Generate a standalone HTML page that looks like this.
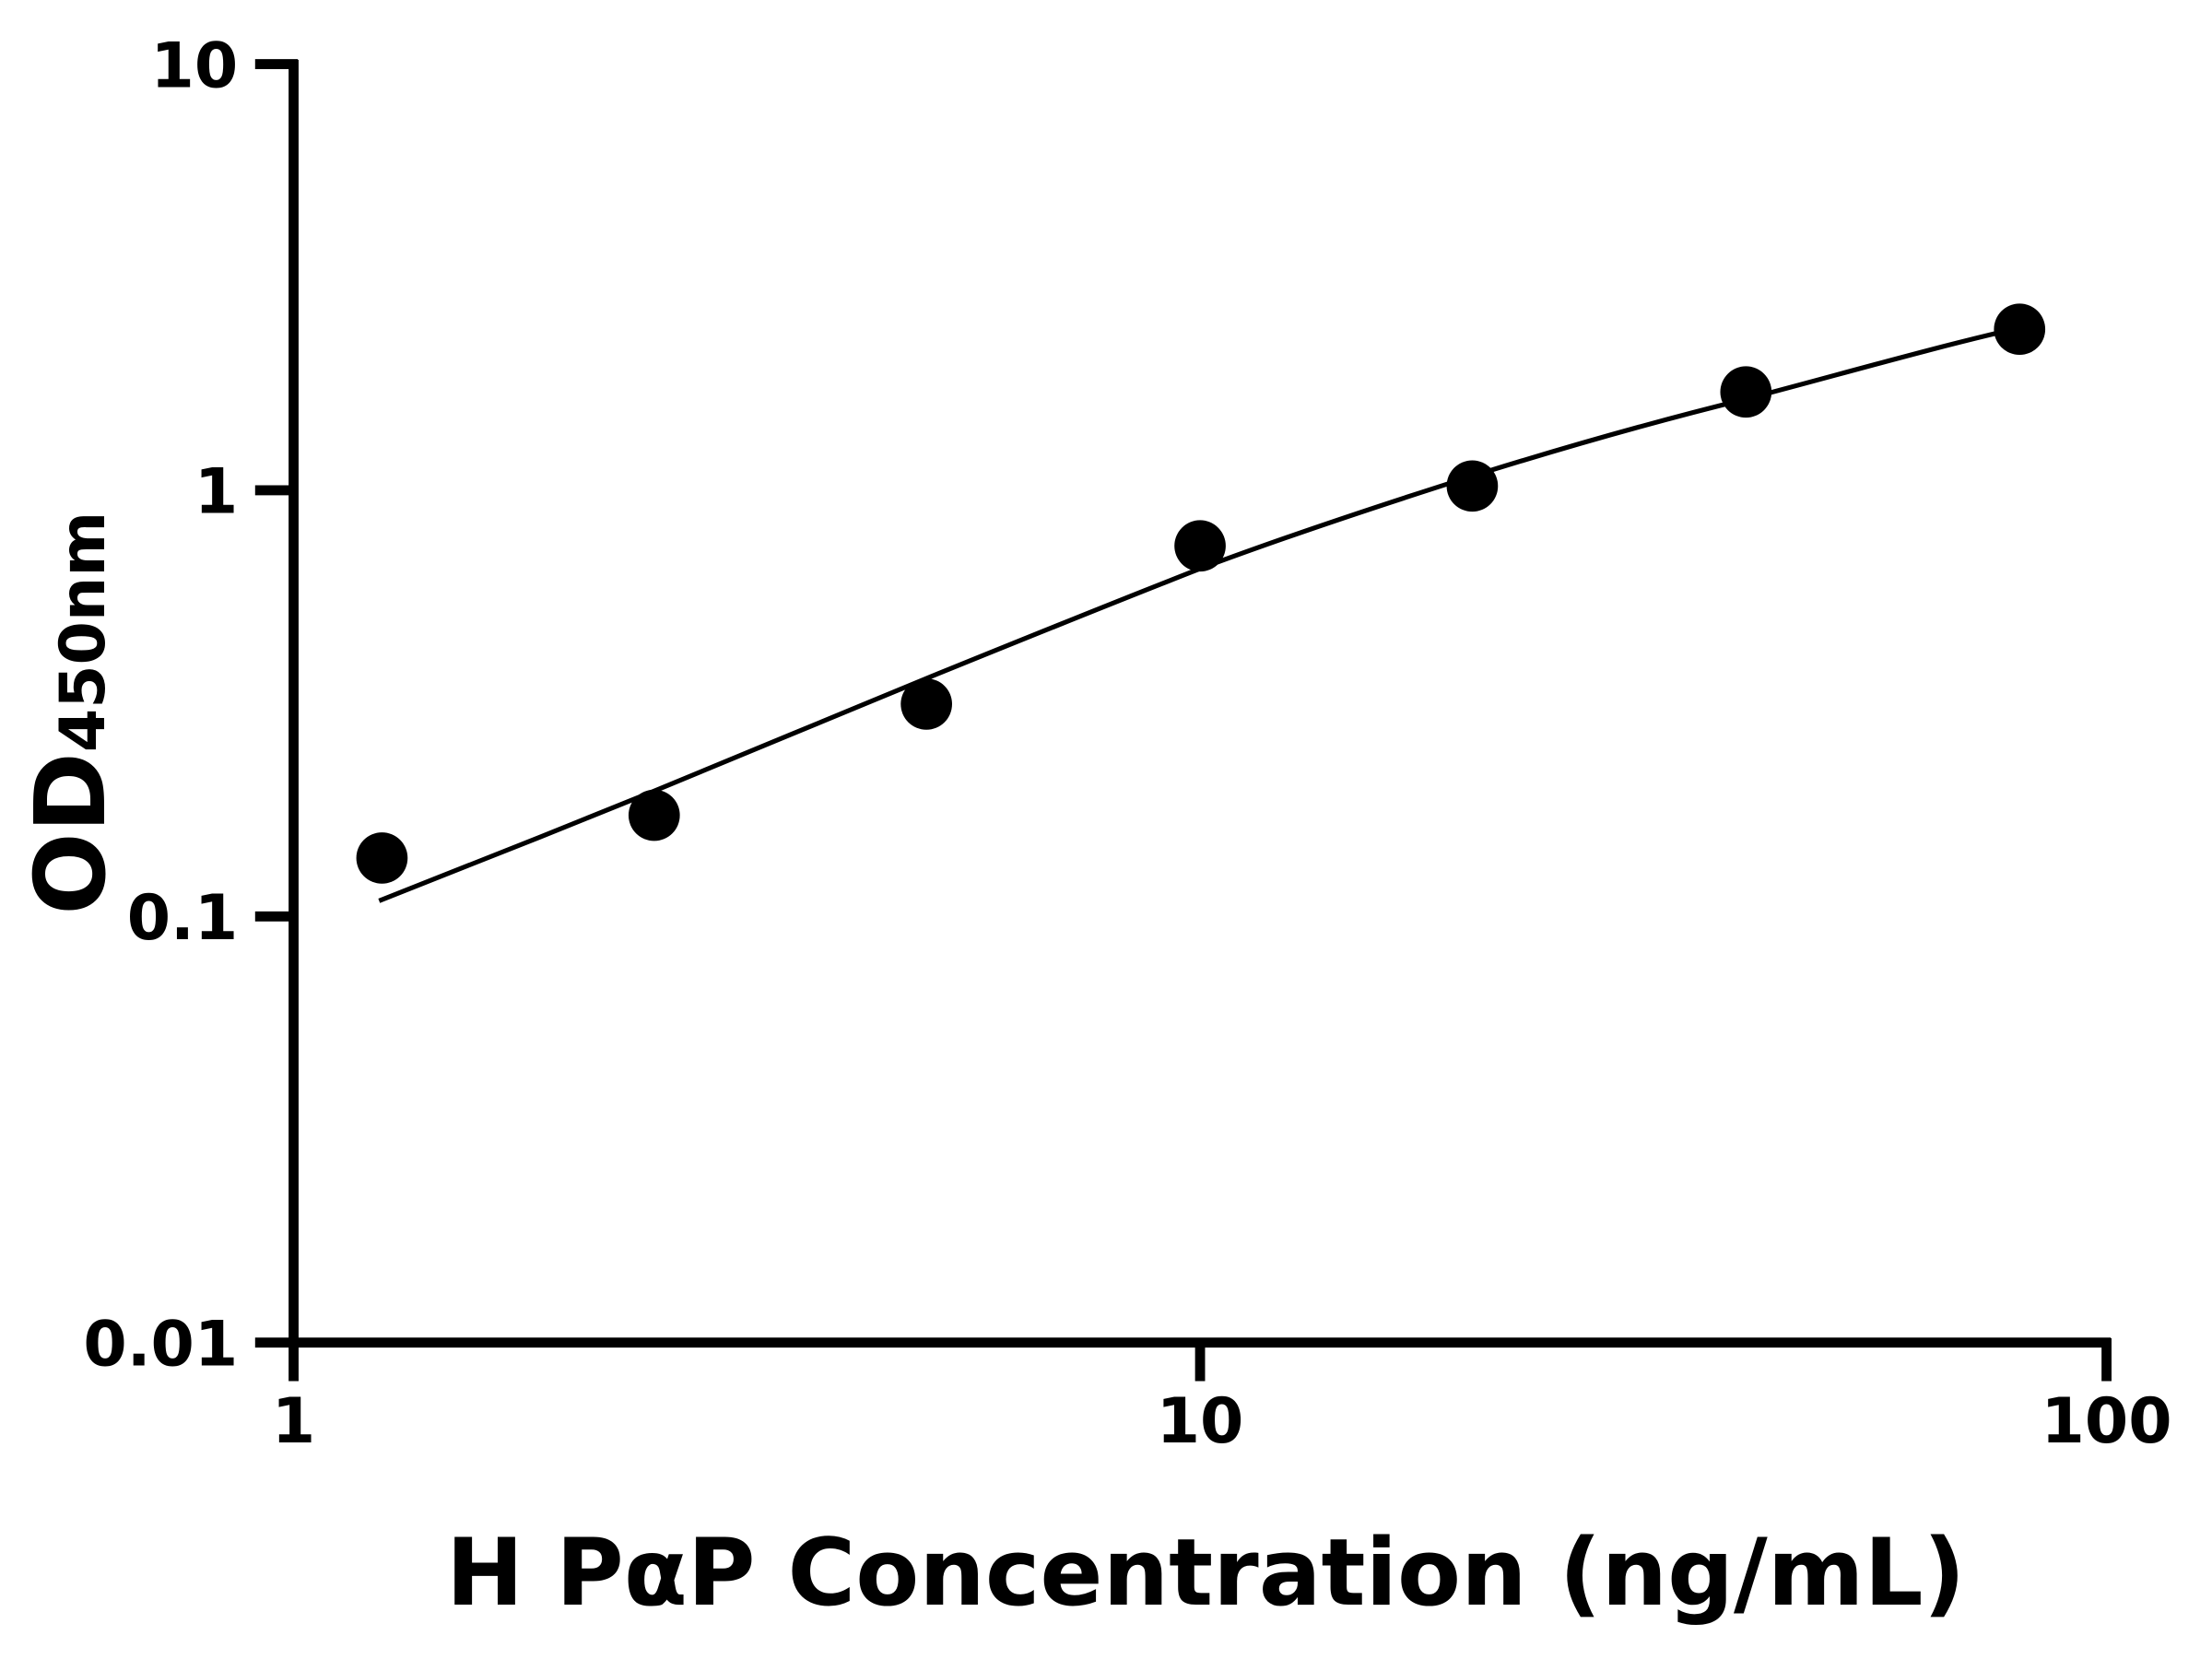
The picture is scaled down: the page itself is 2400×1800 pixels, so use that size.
<!DOCTYPE html>
<html><head><style>html,body{margin:0;padding:0;background:#fff;}svg{display:block}</style></head>
<body>
<svg width="2400" height="1800" viewBox="0 0 1552 1164" preserveAspectRatio="none" xmlns="http://www.w3.org/2000/svg" font-family="'DejaVu Sans','Liberation Sans',sans-serif" font-weight="bold">
<g stroke="#000" stroke-width="7" fill="none">
<line x1="206" y1="42" x2="206" y2="945"/>
<line x1="203" y1="942" x2="1481" y2="942"/>
<line x1="179" y1="45" x2="209" y2="45"/>
<line x1="179" y1="344" x2="206" y2="344"/>
<line x1="179" y1="643" x2="206" y2="643"/>
<line x1="179" y1="942" x2="206" y2="942"/>
<line x1="206" y1="942" x2="206" y2="969"/>
<line x1="842" y1="942" x2="842" y2="969"/>
<line x1="1478" y1="939" x2="1478" y2="969"/>
</g>
<g font-size="44" text-anchor="end" fill="#000">
<text x="167" y="61">10</text>
<text x="167" y="360">1</text>
<text x="167" y="659">0.1</text>
<text x="167" y="958">0.01</text>
</g>
<g font-size="44" text-anchor="middle" fill="#000">
<text x="206" y="1012">1</text>
<text x="842" y="1012">10</text>
<text x="1478" y="1012">100</text>
</g>
<text x="846" y="1126" font-size="65" text-anchor="middle">H PαP Concentration (ng/mL)</text>
<text transform="translate(73,642) rotate(-90)" font-size="68">OD<tspan font-size="44">450nm</tspan></text>
<path d="M266,632 C330,607 395,581 459,555 C523,529 586,502 650,476 C714,450 778,424 842,399 C906,375 970,354 1033,334 C1097,314 1160,296 1225,280 C1290,263 1352,245 1417,230" stroke="#000" stroke-width="3.3" fill="none"/>
<g fill="#000">
<circle cx="268" cy="602" r="18"/>
<circle cx="459" cy="572" r="18"/>
<circle cx="650" cy="494" r="18"/>
<circle cx="842" cy="383" r="18"/>
<circle cx="1033" cy="341" r="18"/>
<circle cx="1225" cy="275" r="18"/>
<circle cx="1417" cy="231" r="18"/>
</g>
</svg>
</body></html>
